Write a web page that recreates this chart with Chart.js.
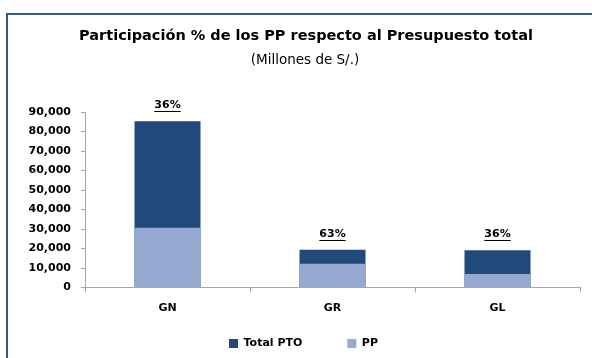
<!DOCTYPE html>
<html lang="es">
<head>
    <meta charset="UTF-8">
    <title>Participación de los PP</title>
    <script src="https://cdn.jsdelivr.net/npm/chart.js"></script>
    <style>
        body { margin: 0; background: white; font-family: "DejaVu Sans", sans-serif; }
        .marco { position: absolute; left: 6px; top: 13px; width: 600px; height: 360px; border: 2px solid #30598f; box-sizing: border-box; }
        .caja { position: absolute; left: 0; top: 0; width: 592px; height: 358px; }
    </style>
</head>
<body>
    <div class="marco"></div>
    <div class="caja"><canvas id="grafico" width="592" height="358"></canvas></div>

    <script>
        // Datos en millones de S/.
        const niveles = ["GN", "GR", "GL"];
        const totalPTO = [85200, 19400, 19100];
        const pp = [30700, 12200, 6900];
        const ticksY = [0, 10000, 20000, 30000, 40000, 50000, 60000, 70000, 80000, 90000];

        const titulo = 'Participación % de los PP respecto al Presupuesto total';
        const subtitulo = '(Millones de S/.)';

        const azulOscuro = '#214a7b';
        const azulClaro = '#95a9d1';
        const gris = '#a6a6a6';
        const fuente = 'DejaVu Sans';

        // titulo y subtitulo centrados sobre el recuadro
        const encabezado = {
            id: 'encabezado',
            afterDraw(chart) {
                const ctx = chart.ctx;
                ctx.save();
                ctx.fillStyle = '#000';
                ctx.textAlign = 'center';
                ctx.textBaseline = 'middle';
                ctx.font = 'bold 14.5px "' + fuente + '"';
                ctx.fillText(titulo, 306, 36);
                ctx.font = '13.5px "' + fuente + '"';
                ctx.fillText(subtitulo, 305, 60);
                ctx.restore();
            }
        };

        // porcentaje PP / total encima de cada barra, subrayado
        const etiquetas = {
            id: 'etiquetas',
            afterDatasetsDraw(chart) {
                const ctx = chart.ctx;
                const barras = chart.getDatasetMeta(0).data;
                ctx.save();
                ctx.font = 'bold 11px "' + fuente + '"';
                ctx.fillStyle = '#000';
                ctx.strokeStyle = '#000';
                ctx.lineWidth = 1;
                ctx.textAlign = 'center';
                ctx.textBaseline = 'middle';
                barras.forEach((b, i) => {
                    const txt = Math.round(pp[i] / totalPTO[i] * 100) + '%';
                    const y = Math.round(b.y - 16);
                    ctx.fillText(txt, b.x, y);
                    const w = ctx.measureText(txt).width;
                    ctx.beginPath();
                    ctx.moveTo(b.x - w / 2, y + 6.5);
                    ctx.lineTo(b.x + w / 2, y + 6.5);
                    ctx.stroke();
                });
                ctx.restore();
            }
        };

        // leyenda: alto fijo para el layout, luego se sube y se corre un poco
        // (el padding grande solo sirve para separar los items)
        const ajusteLeyenda = {
            id: 'ajusteLeyenda',
            beforeLayout(chart) {
                const lg = chart.legend;
                if (lg && !lg._altoFijo) {
                    const fit = lg.fit;
                    lg.fit = function () { fit.call(this); this.height = 43; };
                    lg._altoFijo = true;
                }
            },
            afterLayout(chart) {
                const lg = chart.legend;
                lg.top -= 22;
                lg.height = lg.bottom - lg.top;
                lg.left += 5; lg.right += 5;
            }
        };

        let ctx = document.getElementById('grafico').getContext('2d');
        let chart = new Chart(ctx, {
            type: 'bar',
            data: {
                labels: niveles,
                datasets: [
                    { label: 'Total PTO', data: totalPTO, backgroundColor: azulOscuro, order: 1 },
                    { label: 'PP', data: pp, backgroundColor: azulClaro, order: 0 }
                ]
            },
            options: {
                responsive: false,
                animation: false,
                layout: { padding: { left: 17, right: 12, top: 112, bottom: 0 } },
                datasets: { bar: { grouped: false, barPercentage: 0.4, categoryPercentage: 1 } },
                scales: {
                    x: {
                        grid: { display: true, drawOnChartArea: false, offset: true, tickLength: 5, color: gris },
                        border: { color: gris, width: 1 },
                        ticks: { color: '#000', font: { family: fuente, size: 11, weight: 'bold' }, padding: 9 },
                        afterFit(s) { s.height = 27.5; }
                    },
                    y: {
                        min: 0, max: 90000,
                        afterBuildTicks(s) { s.ticks = ticksY.map(v => ({ value: v })); },
                        grid: { drawOnChartArea: false, tickLength: 4, color: gris },
                        border: { color: gris, width: 1 },
                        ticks: {
                            color: '#000', padding: 10, autoSkip: false,
                            font: { family: fuente, size: 11, weight: 'bold' },
                            callback: v => v.toLocaleString('en-US')
                        },
                        afterFit(s) { s.width = 68; }
                    }
                },
                plugins: {
                    legend: {
                        position: 'bottom',
                        labels: {
                            boxWidth: 9, boxHeight: 9, padding: 45, color: '#000',
                            font: { family: fuente, size: 11, weight: 'bold' },
                            sort: (a, b) => a.datasetIndex - b.datasetIndex
                        }
                    },
                    tooltip: { enabled: false }
                }
            },
            plugins: [encabezado, etiquetas, ajusteLeyenda]
        });
    </script>
</body>
</html>
